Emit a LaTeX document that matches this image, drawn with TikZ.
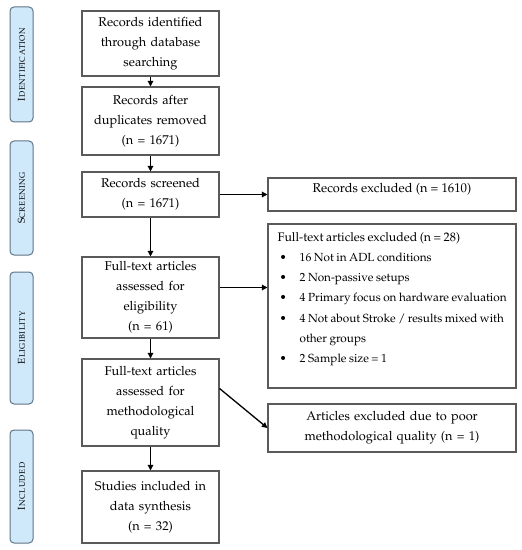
\documentclass[tikz,border=0pt]{standalone}
\usepackage[T1]{fontenc}
\usepackage{mathpazo}
\usetikzlibrary{arrows.meta}
\definecolor{phasefill}{RGB}{207,233,251}
\definecolor{phasedraw}{RGB}{96,116,134}
\definecolor{boxdraw}{RGB}{90,90,90}
\newcommand{\blt}{\hspace*{2bp}\makebox[20bp][l]{\textbullet}}
\newcommand{\tightsp}{\spaceskip=2.5bp plus 1bp\relax}
\begin{document}
\begin{tikzpicture}[x=1bp,y=-1bp,
  every node/.style={font=\fontsize{12.8}{20}\selectfont, inner sep=0pt},
  mainbox/.style={draw=boxdraw, line width=1.1bp, minimum width=137bp, text width=134bp, align=center},
  sidebox/.style={draw=boxdraw, line width=1.1bp, minimum width=248bp},
  listtext/.style={font=\fontsize{11.8}{20.2}\selectfont},
  phase/.style={draw=phasedraw, fill=phasefill, line width=1bp, rounded corners=4bp, rotate=90, minimum height=23bp, font=\fontsize{10}{12}\selectfont},
  flow/.style={line width=1.3bp, -{Triangle[length=5.5bp,width=5.5bp]}}
]
\useasboundingbox (0,0) rectangle (522,550);
% phase labels
\node[phase, minimum width=115bp] (ph1) at (21.5,64.5) {\textsc{Identification}};
\node[phase, minimum width=114bp] (ph2) at (21.5,198) {\textsc{Screening}};
\node[phase, minimum width=132bp] (ph3) at (21.5,338) {\textsc{Eligibility}};
\node[phase, minimum width=113bp] (ph4) at (21.5,486.5) {\textsc{Included}};
% main boxes
\node[mainbox, minimum height=65bp] (b1) at (150.5,43.5) {Records identified\\through database\\searching};
\node[mainbox, minimum height=68bp] (b2) at (150.5,121) {Records after\\duplicates removed\\(n = 1671)};
\node[mainbox, minimum height=45bp] (b3) at (150.5,194.5) {Records screened\\(n = 1671)};
\node[mainbox, minimum height=81bp] (b4) at (150.5,297.5) {Full-text articles\\assessed for\\eligibility\\(n = 61)};
\node[mainbox, minimum height=87bp] (b5) at (150.5,402.5) {Full-text articles\\assessed for\\methodological\\quality};
\node[mainbox, minimum height=72bp] (b6) at (150.5,507) {Studies included in\\data synthesis\\(n = 32)};
% side boxes
\node[sidebox, minimum height=33bp, text depth=14bp] (ex1) at (392,194.5) {Records excluded (n = 1610)};
\node[sidebox, minimum height=164bp] (ex2) at (392,306) {};
\node[anchor=north west, listtext, text width=250bp, align=left] (ex2t) at ([xshift=10bp,yshift=-9bp]ex2.north west) {\tightsp{\fontsize{12.4}{20.2}\selectfont Full-text articles excluded (n = 28)}\\
\blt 16 Not in ADL conditions\\
\blt 2 Non-passive setups\\
\blt 4 Primary focus on hardware evaluation\\
\blt 4 Not about Stroke / results mixed with\\
\hspace*{22bp}other groups\\
\blt 2 Sample size = 1};
\node[sidebox, minimum height=48bp, text width=240bp, align=center] (ex3) at (392,428) {Articles excluded due to poor\\methodological quality (n = 1)};
% connectors
\draw[flow] (b1) -- (b2);
\draw[flow] (b2) -- (b3);
\draw[flow] (b3) -- (b4);
\draw[flow] (b4) -- (b5);
\draw[flow] (b5) -- (b6);
\draw[flow] (b3.east) -- (ex1.west);
\draw[flow] ([yshift=10bp]b4.east) -- ([yshift=10bp]b4.east -| ex2.west);
\draw[flow] ([yshift=14bp]b5.east) -- (ex3.west);
\end{tikzpicture}
\end{document}
